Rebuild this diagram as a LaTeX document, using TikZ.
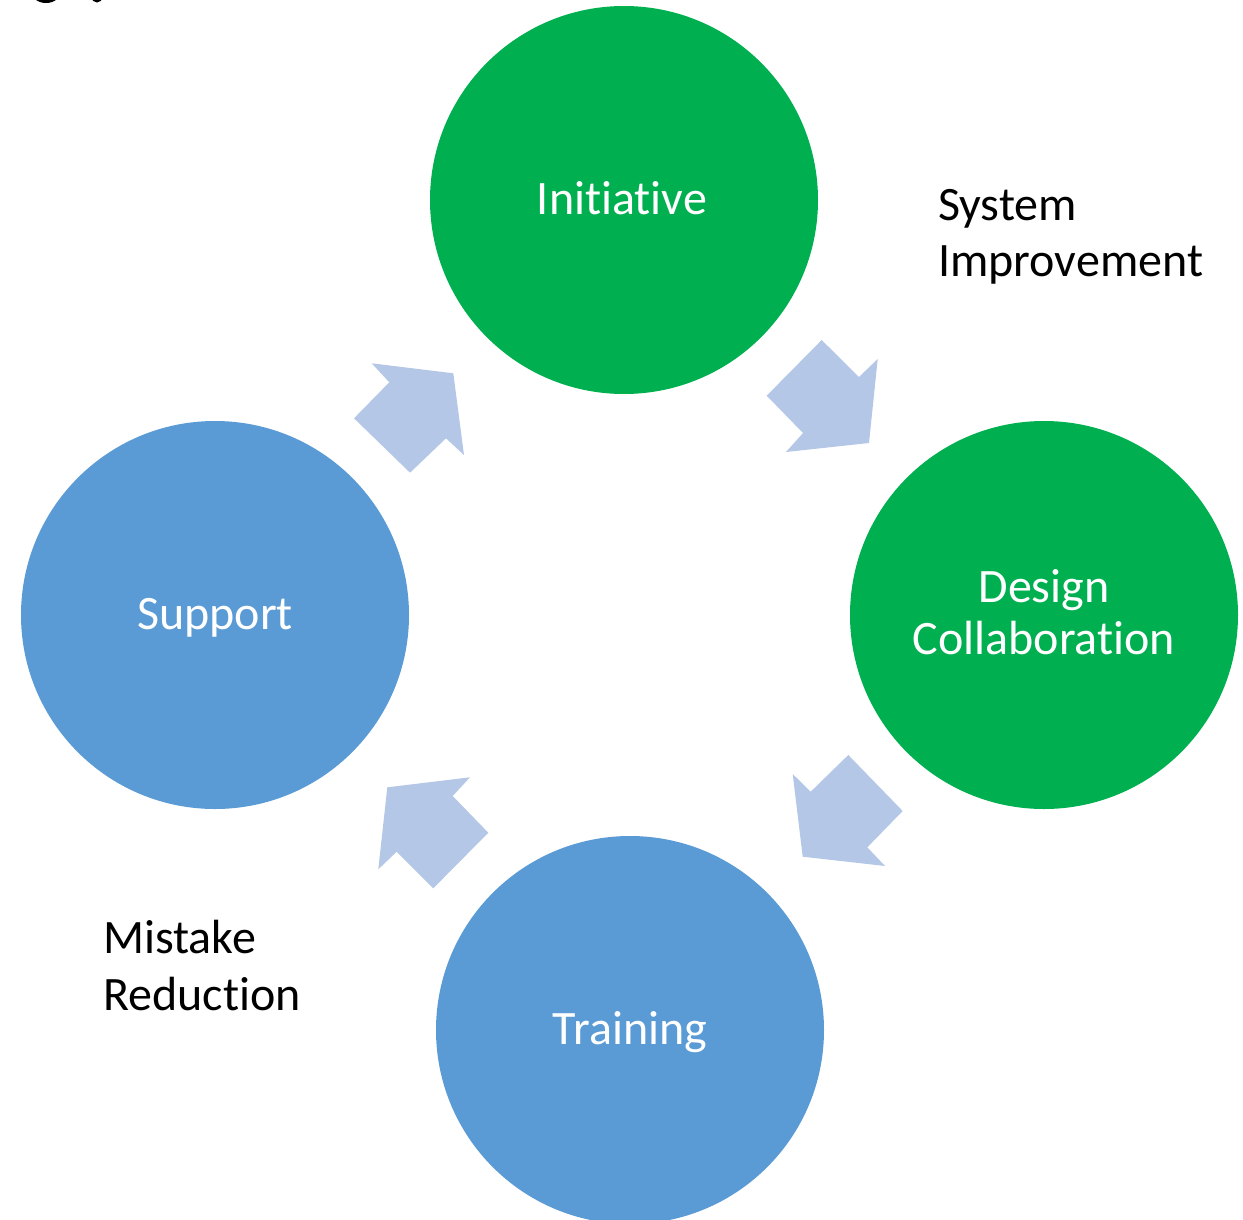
\documentclass[tikz,border=0pt]{standalone}
\usepackage{fontspec}
\setmainfont{Carlito}[Ligatures={NoCommon,NoContextual}]
\definecolor{cgreen}{HTML}{00B050}
\definecolor{cblue}{HTML}{5B9BD5}
\definecolor{carrow}{HTML}{B4C7E7}
\begin{document}
\begin{tikzpicture}[x=1pt,y=-1pt,
  stage/.style={circle,minimum size=388pt,inner sep=0pt,draw=none},
  wtext/.style={text=white,inner sep=0pt,anchor=base,font=\fontsize{48}{57}\selectfont},
  btext/.style={text=black,inner sep=0pt,anchor=base west,font=\fontsize{48}{57}\selectfont},
  blockarrow/.style={fill=carrow,draw=none}]
\useasboundingbox (0,0) rectangle (1243,1219);
\clip (0,0) rectangle (1243,1219);
% cut-off title fragment
\fill[black] (46,-9) ellipse [x radius=15, y radius=12];
\fill[black] (97,-3) circle [radius=5.5];
% circles
\node[stage,fill=cgreen] (init) at (624,200) {};
\node[stage,fill=cgreen] (design) at (1044,615) {};
\node[stage,fill=cblue] (train) at (630,1030) {};
\node[stage,fill=cblue] (support) at (215,615) {};
% circle labels
\node[wtext] (tinit) at (622,214) {Initiative};
\node[wtext] (tdes1) at (1044,602) {Design};
\node[wtext] (tdes2) at (1044,654) {Collaboration};
\node[wtext] (ttrain) at (630,1044) {Training};
\node[wtext] (tsupp) at (215,629) {Support};
% side labels
\node[btext] (sys1) at (938,220) {System};
\node[btext] (sys2) at (938,276) {Improvement};
\node[btext] (mis1) at (103,953) {Mistake};
\node[btext] (mis2) at (103,1010) {Reduction};
% block arrows
\fill[blockarrow] (821.7,340) -- (859,377) -- (877.7,359) -- (869,443) -- (786,452) -- (803,433) -- (766.7,395.7) -- cycle;
\fill[blockarrow] (848.3,755) -- (902.7,811) -- (867.3,847.3) -- (885,866) -- (802.7,856.7) -- (792.7,774) -- (810.7,791.7) -- cycle;
\fill[blockarrow] (470,777.3) -- (452.7,796) -- (488.3,832.7) -- (433.3,888.3) -- (396.7,851.7) -- (378.3,869.3) -- (387.3,787.3) -- cycle;
\fill[blockarrow] (371.7,363.3) -- (453.3,373.3) -- (464,455) -- (446,438.3) -- (410,472.7) -- (354,418.3) -- (389.3,382.3) -- cycle;
\end{tikzpicture}
\end{document}
